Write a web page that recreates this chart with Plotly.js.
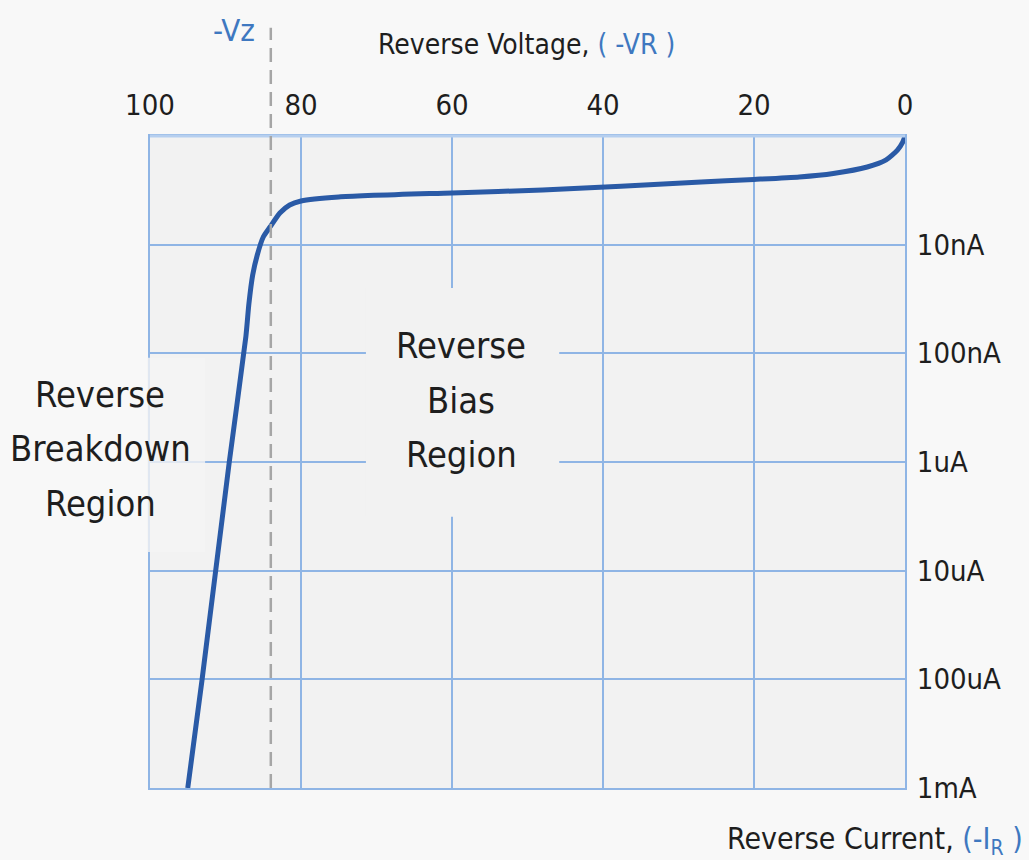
<!DOCTYPE html>
<html>
<head>
<meta charset="utf-8">
<script src="https://cdn.plot.ly/plotly-3.0.1.min.js"></script>
<style>
  html, body { margin: 0; padding: 0; background: #f8f8f8; }
  #chart { width: 1029px; height: 860px; }
</style>
</head>
<body>
<div id="chart"></div>
<script>
// Reverse voltage (V, magnitude) and reverse current (A, magnitude)
const voltage = [0, 0.3, 1.0, 2.5, 5.0, 9.5, 14, 20, 27, 48, 60, 75, 80, 81.5, 82.8, 84.1, 85.0, 85.8, 86.4, 86.9, 87.3, 89.5, 93.1, 95.0];
const current = [1.0e-9, 1.14e-9, 1.35e-9, 1.66e-9, 1.93e-9, 2.21e-9, 2.38e-9, 2.51e-9, 2.65e-9, 3.14e-9, 3.34e-9, 3.64e-9, 3.96e-9, 4.31e-9, 5.11e-9, 6.87e-9, 8.5e-9, 1.25e-8, 1.9e-8, 3.5e-8, 7.0e-8, 1.0e-6, 1.0e-4, 1.0e-3];

const xTickVals = [100, 80, 60, 40, 20, 0];
const yTickVals = [1e-8, 1e-7, 1e-6, 1e-5, 1e-4, 1e-3];
const yTickText = ['10nA', '100nA', '1uA', '10uA', '100uA', '1mA'];
const zenerVoltage = 84;

const FONT = 'DejaVu Sans Condensed, DejaVu Sans, sans-serif';
const GRID = '#8fb5e5';
const BLUE = '#3f78c0';
const TXT = '#1e1e1e';

const trace = {
  x: voltage, y: current, type: 'scatter', mode: 'lines',
  line: { color: '#2a5aa6', width: 5, shape: 'spline', smoothing: 0.6 },
  hoverinfo: 'skip', showlegend: false
};

function lbl(text, x, y, size, color, xanchor) {
  return { text: text, xref: 'paper', yref: 'paper', x: x, y: y,
    xanchor: xanchor || 'center', yanchor: 'middle', showarrow: false,
    font: { family: FONT, size: size, color: color || TXT } };
}

const layout = {
  width: 1029, height: 860,
  margin: { l: 150, r: 124, t: 136, b: 72 },
  paper_bgcolor: '#f8f8f8', plot_bgcolor: '#f2f2f2',
  showlegend: false,
  xaxis: {
    side: 'top', range: [100, 0], tickvals: xTickVals, ticktext: xTickVals.map(String),
    showgrid: true, gridcolor: GRID, gridwidth: 2, zeroline: false,
    showline: true, linecolor: GRID, linewidth: 2, mirror: true,
    ticks: '', ticklabelstandoff: 7,
    tickfont: { family: FONT, size: 29, color: TXT }, fixedrange: true
  },
  yaxis: {
    type: 'log', side: 'right', range: [-3, -9], tickvals: yTickVals, ticktext: yTickText,
    showgrid: true, gridcolor: GRID, gridwidth: 2, zeroline: false,
    showline: true, linecolor: GRID, linewidth: 2, mirror: true,
    ticks: '', ticklabelstandoff: 4,
    tickfont: { family: FONT, size: 29, color: TXT }, fixedrange: true
  },
  shapes: [
    // lighter top border
    { type: 'line', xref: 'paper', yref: 'paper', x0: 0, x1: 1, y0: 1, y1: 1,
      line: { color: '#b6cfef', width: 3 }, layer: 'above' },
    // -Vz dashed line
    { type: 'line', xref: 'x', yref: 'paper', x0: zenerVoltage, x1: zenerVoltage, y0: 0, y1: 1.166,
      line: { color: '#a6a6a6', width: 2.5, dash: '14px,8px' }, layer: 'above' },
    // label background boxes
    { type: 'rect', xref: 'paper', yref: 'paper', x0: 0.286, x1: 0.542, y0: 0.416, y1: 0.767,
      fillcolor: '#f2f2f2', line: { width: 0 }, layer: 'above' },
    { type: 'rect', xref: 'paper', yref: 'paper', x0: -0.004, x1: 0.073, y0: 0.362, y1: 0.660,
      fillcolor: 'rgba(244,244,244,0.8)', line: { width: 0 }, layer: 'above' }
  ],
  annotations: [
    lbl('-Vz', 0.111, 1.163, 31, BLUE),
    lbl('Reverse Voltage, <span style="color:' + BLUE + '">( -VR )</span>', 0.499, 1.140, 28, TXT),
    lbl('Reverse Current, <span style="color:' + BLUE + '">(-I<sub>R</sub> )</span>', 1.159, -0.080, 30, TXT, 'right'),
    lbl('Reverse', 0.412, 0.679, 36),
    lbl('Bias', 0.412, 0.595, 36),
    lbl('Region', 0.412, 0.511, 36),
    lbl('Reverse', -0.0662, 0.603, 36),
    lbl('Breakdown', -0.0662, 0.520, 36),
    lbl('Region', -0.0662, 0.437, 36)
  ]
};

Plotly.newPlot('chart', [trace], layout, { displayModeBar: false, staticPlot: true });
</script>
</body>
</html>
